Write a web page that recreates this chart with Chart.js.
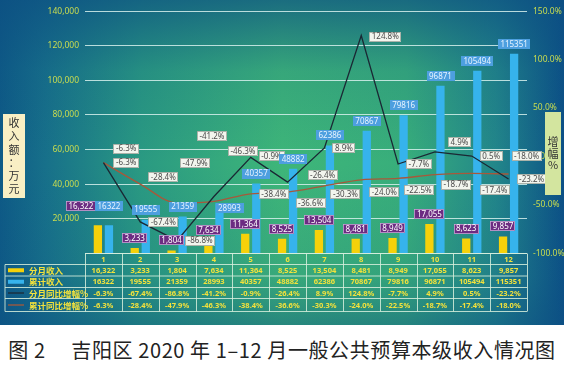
<!DOCTYPE html>
<html><head><meta charset="utf-8">
<script src="https://cdn.jsdelivr.net/npm/chart.js@4"></script>
<style>
html,body{margin:0;padding:0;background:#fff;width:564px;height:370px;overflow:hidden}
#wrap{position:relative;width:564px;height:325px}
#cap{position:absolute;left:0;top:325px;width:564px;height:45px;font:20px "Noto Sans CJK SC";color:#222;text-align:center;line-height:50px;white-space:pre;letter-spacing:0.6px}
</style></head><body>
<div id="wrap"><canvas id="c" width="564" height="325"></canvas></div>
<div id="cap">图 2　 吉阳区 2020 年 1–12 月一般公共预算本级收入情况图</div>
<script>
const months = ['1','2','3','4','5','6','7','8','9','10','11','12'];
const seriesNames = ['分月收入','累计收入','分月同比增幅%','累计同比增幅%'];
const monthlyIncome = [16322, 3233, 1804, 7634, 11364, 8525, 13504, 8481, 8949, 17055, 8623, 9857];
const cumulativeIncome = [16322, 19555, 21359, 28993, 40357, 48882, 62386, 70867, 79816, 96871, 105494, 115351];
const monthlyYoY = [-6.3, -67.4, -86.8, -41.2, -0.9, -26.4, 8.9, 124.8, -7.7, 4.9, 0.5, -23.2];
const cumulativeYoY = [-6.3, -28.4, -47.9, -46.3, -38.4, -36.6, -30.3, -24.0, -22.5, -18.7, -17.4, -18.0];
const leftTitle = '收入额：万元';
const rightTitle = '增幅%';

// label placement tweaks (pixels)
const purpleDx = [-17,0,0,0,0,0,0,0,0,0,0,0];
const purpleDy = [-9,0,0,0,0,0,0,0,0,0,0,0];
const blueDx = [0,0,0,10,0,0,0,0,0,0,0,0];
const blueDy = [-9,0,0,15,0,0,0,0,0,0,0,0];
const blackDx = [2,0,0,-25,0,12,0,0,0,5,0,0];
const blackDy = [0,0,0,-60,-1,-7,0,1,0,-10,0,0];
const brownDx = [2,0,-5,6,0,0,-2,0,-2,-2,0,-5];
const brownDy = [-14,-7,-40,-50,0,11,8,12,12,10,17,-18];

const fmtComma = v => v.toLocaleString('en-US');
const fmtPct = v => v.toFixed(1) + '%';

function drawBox(ctx, text, cx, cy, fill, stroke, color, font){
  ctx.font = font;
  const w = ctx.measureText(text).width + 5;
  const h = 10;
  ctx.fillStyle = fill;
  ctx.fillRect(Math.round(cx - w/2), Math.round(cy - h/2), Math.round(w), h);
  if (stroke){ ctx.strokeStyle = stroke; ctx.lineWidth = 0.8; ctx.strokeRect(Math.round(cx - w/2)+0.5, Math.round(cy - h/2)+0.5, Math.round(w)-1, h-1); }
  ctx.fillStyle = color;
  ctx.textAlign = 'center'; ctx.textBaseline = 'middle';
  ctx.fillText(text, cx, cy + 0.5);
  return w;
}

const bgPlugin = {
  id: 'bg',
  beforeDraw(chart){
    const ctx = chart.ctx, W = chart.width, H = chart.height;
    ctx.save();
    const g = ctx.createLinearGradient(0,0,W,0);
    g.addColorStop(0,'#0e5a86'); g.addColorStop(0.08,'#17708a'); g.addColorStop(0.25,'#2a9a82');
    g.addColorStop(0.5,'#3eb679'); g.addColorStop(0.72,'#38ae7b'); g.addColorStop(0.88,'#22868a'); g.addColorStop(1,'#0c5086');
    ctx.fillStyle = g; ctx.fillRect(0,0,W,H);
    const v = ctx.createLinearGradient(0,0,0,H);
    v.addColorStop(0,'rgba(12,78,130,0.7)'); v.addColorStop(0.22,'rgba(12,78,130,0.15)');
    v.addColorStop(0.5,'rgba(12,78,130,0)'); v.addColorStop(0.85,'rgba(12,78,130,0.12)'); v.addColorStop(1,'rgba(12,78,130,0.45)');
    ctx.fillStyle = v; ctx.fillRect(0,0,W,H);
    ctx.restore();
  }
};

const labelPlugin = {
  id: 'labels',
  afterDatasetsDraw(chart){
    const ctx = chart.ctx;
    ctx.save();
    const f = '8px "Noto Sans"';
    const mBlack = chart.getDatasetMeta(0), mBrown = chart.getDatasetMeta(1);
    const mYel = chart.getDatasetMeta(2), mBlu = chart.getDatasetMeta(3);
    for (let i=0;i<months.length;i++){
      let p = mBrown.data[i];
      ctx.font = f;
      let t = fmtPct(cumulativeYoY[i]);
      let w = ctx.measureText(t).width + 5;
      drawBox(ctx, t, p.x + 8 + brownDx[i] + w/2, p.y + brownDy[i], '#f2f5ee', '#9aa39a', '#4a4a4a', f);
      p = mBlack.data[i];
      t = fmtPct(monthlyYoY[i]);
      w = ctx.measureText(t).width + 5;
      drawBox(ctx, t, p.x + 8 + blackDx[i] + w/2, p.y + blackDy[i], '#f2f5ee', '#9aa39a', '#4a4a4a', f);
    }
    for (let i=0;i<months.length;i++){
      let b = mYel.data[i];
      drawBox(ctx, fmtComma(monthlyIncome[i]), b.x + purpleDx[i], b.y - 10 + purpleDy[i], '#6c2c82', '#c4a8d4', '#ffffff', f);
      b = mBlu.data[i];
      drawBox(ctx, String(cumulativeIncome[i]), b.x + blueDx[i], b.y - 10 + blueDy[i], '#4d9fdf', null, '#e6f3ff', f);
    }
    ctx.restore();
  },
  afterDraw(chart){
    const ctx = chart.ctx, xs = chart.scales.x, ca = chart.chartArea;
    ctx.save();
    ctx.fillStyle = '#f9efc4'; ctx.fillRect(3,114,22,84);
    ctx.fillStyle = '#333'; ctx.font = '11px "Noto Sans CJK SC"'; ctx.textAlign='center'; ctx.textBaseline='middle';
    [...leftTitle].forEach((ch,k)=>ctx.fillText(ch, 14, 123 + k*13.2));
    ctx.fillStyle = '#d3e59f'; ctx.fillRect(545,112,16,83);
    ctx.fillStyle = '#333'; ctx.font = '11px "Noto Sans CJK SC"';
    [...rightTitle].forEach((ch,k)=>ctx.fillText(ch, 553, 142 + k*11.5));
    const rows = [ca.bottom, 264.5, 276, 287.5, 298.5, 311.5];
    const left = 5, x0 = ca.left, x1 = ca.right;
    const cw = (x1 - x0)/months.length;
    ctx.strokeStyle = 'rgba(214,238,220,0.85)'; ctx.lineWidth = 1;
    ctx.beginPath();
    ctx.moveTo(x0, rows[0]); ctx.lineTo(x1, rows[0]);
    for (let r=1;r<rows.length;r++){ ctx.moveTo(left, rows[r]); ctx.lineTo(x1, rows[r]); }
    ctx.moveTo(left, rows[1]); ctx.lineTo(left, rows[5]);
    for (let c=0;c<=months.length;c++){ const x = Math.round(x0 + c*cw)+0.5; ctx.moveTo(x, rows[0]); ctx.lineTo(x, rows[5]); }
    ctx.stroke();
    ctx.fillStyle = '#f3e23c'; ctx.font = 'bold 7.5px "Noto Sans"'; ctx.textAlign='center'; ctx.textBaseline='middle';
    const rowVals = [monthlyIncome.map(fmtComma), cumulativeIncome.map(String), monthlyYoY.map(fmtPct), cumulativeYoY.map(fmtPct)];
    for (let c=0;c<months.length;c++){
      const cx = xs.getPixelForValue(c);
      ctx.fillText(months[c], cx, (rows[0]+rows[1])/2+0.5);
      for (let r=0;r<4;r++) ctx.fillText(rowVals[r][c], cx, (rows[r+1]+rows[r+2])/2+0.5);
    }
    ctx.textAlign='left'; ctx.font = 'bold 8.5px "Noto Sans CJK SC"';
    for (let r=0;r<4;r++){
      const cy = (rows[r+1]+rows[r+2])/2;
      if (r===0){ ctx.fillStyle='#f6d10a'; ctx.fillRect(8, cy-2, 16, 4); }
      if (r===1){ ctx.fillStyle='#36b3ec'; ctx.fillRect(8, cy-2, 16, 4); }
      if (r===2){ ctx.strokeStyle='#1c2a36'; ctx.lineWidth=1.3; ctx.beginPath(); ctx.moveTo(8,cy); ctx.lineTo(24,cy); ctx.stroke(); }
      if (r===3){ ctx.strokeStyle='#a8583a'; ctx.lineWidth=1.3; ctx.beginPath(); ctx.moveTo(8,cy); ctx.lineTo(24,cy); ctx.stroke(); }
      ctx.fillStyle = '#f3e23c';
      ctx.fillText(seriesNames[r], 29, cy+0.5);
    }
    ctx.restore();
  }
};

new Chart(document.getElementById('c'), {
  type: 'bar',
  data: {
    labels: months,
    datasets: [
      { type:'line', label: seriesNames[2], data: monthlyYoY, yAxisID:'y1', borderColor:'#1a2834', borderWidth:1.3, pointRadius:0, tension:0, order:0 },
      { type:'line', label: seriesNames[3], data: cumulativeYoY, yAxisID:'y1', borderColor:'#a8583a', borderWidth:1.3, pointRadius:0, cubicInterpolationMode:'monotone', order:1 },
      { label: seriesNames[0], data: monthlyIncome, yAxisID:'y', backgroundColor:'#f6d10a', categoryPercentage:0.6, barPercentage:0.75, order:2 },
      { label: seriesNames[1], data: cumulativeIncome, yAxisID:'y', backgroundColor:'#36b3ec', categoryPercentage:0.6, barPercentage:0.75, order:3 }
    ]
  },
  options: {
    responsive:false, animation:false, devicePixelRatio:1,
    layout:{ padding:{ top:10, bottom:71.5, left:0, right:0 } },
    plugins:{ legend:{display:false}, tooltip:{enabled:false} },
    scales:{
      x:{ display:false, offset:true, grid:{display:false} },
      y:{ position:'left', min:0, max:140000,
          ticks:{ stepSize:20000, color:'#c9dc4f', font:{size:8.5, family:'Noto Sans'}, padding:6, callback:v => v===0 ? '' : fmtComma(v) },
          grid:{ color:'rgba(214,240,236,0.85)', lineWidth:1, drawTicks:false }, border:{display:false},
          afterFit(s){ s.width = 85; } },
      y1:{ position:'right', min:-100, max:150,
          ticks:{ stepSize:50, color:'#c9dc4f', font:{size:8.5, family:'Noto Sans'}, padding:6, callback:v => v.toFixed(1)+'%' },
          grid:{ display:false, drawTicks:false }, border:{display:false},
          afterFit(s){ s.width = 37; } }
    }
  },
  plugins:[bgPlugin, labelPlugin]
});
</script>
</body></html>
